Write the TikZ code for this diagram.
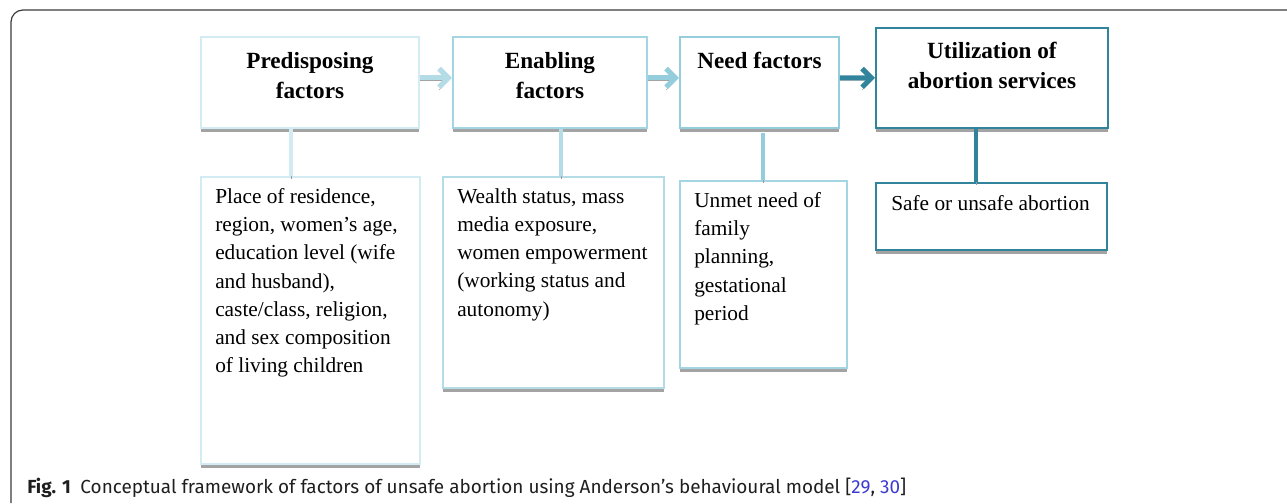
\documentclass[tikz,border=0pt]{standalone}
\usepackage{fontspec}
\setmainfont{Liberation Serif}
\newfontfamily\capfont{Fira Sans}
\usepackage{tikz}
\usetikzlibrary{arrows.meta,positioning,shadows}

\definecolor{palecyan}{HTML}{D3EBF2}
\definecolor{softcyan}{HTML}{B4DCE7}
\definecolor{midcyan}{HTML}{94CEDD}
\definecolor{deepteal}{HTML}{31849B}
\definecolor{framegray}{HTML}{3A3A3A}
\definecolor{citeblue}{HTML}{3B3BD0}

\begin{document}
\begin{tikzpicture}[x=0.75pt,y=-0.75pt,
    box/.style={draw, fill=white, line width=1.4pt, anchor=north west, inner sep=0pt,
      drop shadow={shadow xshift=0.4pt, shadow yshift=-3.3pt, fill=black!36, draw=none, opacity=1}},
    title/.style={font=\fontsize{17.4}{22.5}\selectfont\bfseries, align=center, anchor=north, inner sep=0pt},
    body/.style={font=\fontsize{16}{21.2}\selectfont, align=left, anchor=north west, inner sep=0pt},
    flow/.style={line width=3.8pt, -{Straight Barb[length=7pt,width=14pt]},
      preaction={draw=black!36, transform canvas={yshift=-2pt}}},
    link/.style={line width=3pt, preaction={draw=black!40, transform canvas={yshift=-2.2pt}}}]
          \useasboundingbox (0,0) rectangle (1287,503);
          \draw[framegray, line width=0.9pt, rounded corners=9pt] (11,503) -- (11,10) -- (1287,10);

          \node[box, draw=palecyan, minimum width=163.5pt, minimum height=68.25pt] (pred) at (200,36) {};
          \node[box, draw=midcyan!85, minimum width=145.5pt, minimum height=68.25pt] (enab) at (452,36) {};
          \node[box, draw=midcyan, minimum width=119.25pt, minimum height=68.25pt] (need) at (679,36) {};
          \node[box, draw=deepteal, minimum width=174pt, minimum height=75pt] (util) at (875,27) {};

          \node[title] (pred_t) at ([yshift=-12pt]pred.north) {Predisposing\\factors};
          \node[title] (enab_t) at ([yshift=-12pt]enab.north) {Enabling\\factors};
          \node[title] (need_t) at ([yshift=-12pt]need.north) {Need factors};
          \node[title] (util_t) at ([yshift=-11.25pt]util.north) {Utilization of\\abortion services};

          \node[box, draw=palecyan, minimum width=164.25pt, minimum height=215.25pt] (pred_l) at (200,176) {};
          \node[box, draw=softcyan, minimum width=165.75pt, minimum height=158.25pt] (enab_l) at (442,176) {};
          \node[box, draw=midcyan!85, minimum width=125.25pt, minimum height=140.25pt] (need_l) at (679,180) {};
          \node[box, draw=deepteal, minimum width=173.25pt, minimum height=50.25pt] (util_l) at (875,182) {};

          \node[body] (pred_b) at ([xshift=11.25pt,yshift=-9pt]pred_l.north west)
            {Place of residence,\\region, women’s age,\\education level (wife\\and husband),\\caste/class, religion,\\and sex composition\\of living children};
          \node[body] (enab_b) at ([xshift=11.25pt,yshift=-9pt]enab_l.north west)
            {Wealth status, mass\\media exposure,\\women empowerment\\(working status and\\autonomy)};
          \node[body] (need_b) at ([xshift=11.25pt,yshift=-9pt]need_l.north west)
            {Unmet need of\\family\\planning,\\gestational\\period};
          \node[body] (util_b) at ([xshift=12pt,yshift=-9.75pt]util_l.north west)
            {Safe or unsafe abortion};

          \draw[flow, softcyan] ([yshift=3.4pt]pred.east) -- ([yshift=3.4pt]enab.west);
          \draw[flow, midcyan] ([yshift=3.4pt]enab.east) -- ([yshift=3.4pt]need.west);
          \draw[flow, deepteal] ([yshift=3.4pt]need.east) -- (util.west);

          \draw[link, palecyan] ([xshift=-14.25pt]pred.south) -- ([xshift=-14.25pt]pred.south |- pred_l.north);
          \draw[link, softcyan] ([xshift=8.25pt]enab.south) -- ([xshift=8.25pt]enab.south |- enab_l.north);
          \draw[link, midcyan] ([xshift=2.6pt,yshift=-3pt]need.south) -- ([xshift=2.6pt]need.south |- need_l.north);
          \draw[link, deepteal] ([xshift=-12pt]util.south) -- ([xshift=-12pt]util.south |- util_l.north);

          \node[font=\capfont\fontsize{14.2}{16}\selectfont, text=black!88, anchor=base west, inner sep=0pt] (cap) at (27,493)
            {\textbf{Fig. 1}\hspace{0.5em}Conceptual framework of factors of unsafe abortion using Anderson’s behavioural model [\textcolor{citeblue}{29}, \textcolor{citeblue}{30}]};
        \end{tikzpicture}
\end{document}
